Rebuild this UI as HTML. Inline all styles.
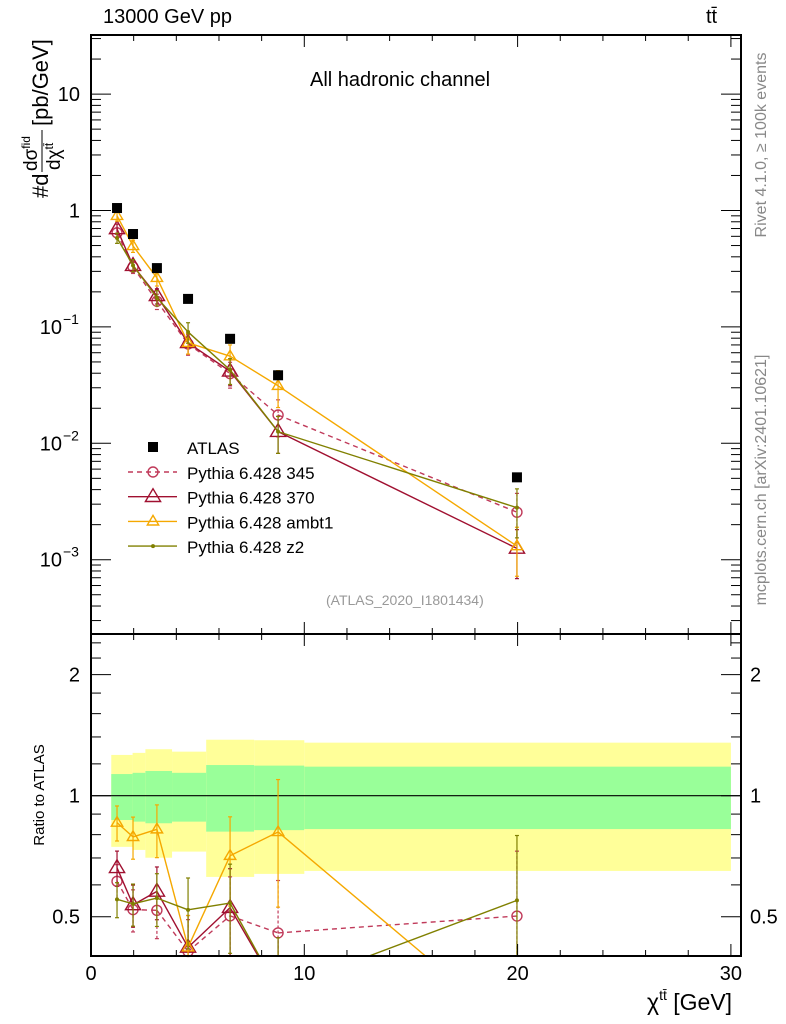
<!DOCTYPE html>
<html><head><meta charset="utf-8"><style>
html,body{margin:0;background:#fff;width:786px;height:1024px;overflow:hidden;}
svg{display:block;font-family:"Liberation Sans",sans-serif;}
</style></head><body>
<svg id="c" width="786" height="1024" viewBox="0 0 786 1024">
<text x="103" y="23" font-size="20">13000 GeV pp</text>
<text x="706" y="23" font-size="20">tt̄</text>
<text x="310" y="86" font-size="20">All hadronic channel</text>
<text x="326" y="605" font-size="14" fill="#999">(ATLAS_2020_I1801434)</text>
<text x="647" y="1010" font-size="23">χ<tspan font-size="14" dy="-10">tt̄</tspan><tspan dy="10"> [GeV]</tspan></text>
<text transform="translate(44,795) rotate(-90)" text-anchor="middle" font-size="15">Ratio to ATLAS</text>
<g transform="translate(48,198) rotate(-90)">
  <text x="0" y="0" font-size="22">#d</text>
  <text x="27" y="-11" font-size="19">dσ<tspan font-size="12" dy="-7">fid</tspan></text>
  <line x1="26" x2="68" y1="-6" y2="-6" stroke="#000" stroke-width="1"/>
  <text x="28" y="12" font-size="19">dχ<tspan font-size="12" dy="-7">tt̄</tspan></text>
  <text x="72" y="0" font-size="22">[pb/GeV]</text>
</g>
<text transform="translate(766,145) rotate(-90)" text-anchor="middle" font-size="16" fill="#888">Rivet 4.1.0, ≥ 100k events</text>
<text transform="translate(766,480) rotate(-90)" text-anchor="middle" font-size="16" fill="#888">mcplots.cern.ch [arXiv:2401.10621]</text>
</svg>
<script>
const xs=[1.22,1.97,3.09,4.55,6.52,8.77,19.97];
const atlas=[1.05,0.628,0.32,0.174,0.079,0.0384,0.0051];
const p345=[0.643,0.327,0.166,0.0713,0.0397,0.0175,0.00256];
const p370=[0.695,0.336,0.185,0.073,0.0416,0.0126,0.00125];
const pambt1=[0.90,0.496,0.264,0.073,0.056,0.0312,0.00131];
const pz2=[0.58,0.338,0.178,0.0905,0.0427,0.0126,0.0028];
const errRel=[0.1,0.12,0.15,0.2,0.25,0.35,0.45];
const binEdges=[0.95,1.95,2.55,3.8,5.4,7.65,10,30];
const yelHi=[1.263,1.278,1.305,1.287,1.378,1.374,1.355];
const yelLo=[0.746,0.733,0.701,0.726,0.628,0.639,0.65];
const grnHi=[1.132,1.14,1.152,1.14,1.192,1.188,1.181];
const grnLo=[0.87,0.862,0.854,0.862,0.814,0.821,0.826];
const xTicks=[0,10,20,30];
const yTicks=[10,1,0.1,0.01,0.001];
const yTickLabels=["10","1","10","10","10"];
const yTickExp=["","","\u22121","\u22122","\u22123"];
const rTicks=[0.5,1,2];

const NS="http://www.w3.org/2000/svg";
const svg=document.getElementById('c');
function el(t,a,p){const e=document.createElementNS(NS,t);for(const k in a)e.setAttribute(k,a[k]);(p||svg).appendChild(e);return e;}
const L=91,R=741,T=35,MB=634,RB=956;
const X=v=>91+v*21.33;
const Y=v=>210.5-116.4*Math.log10(v);
const RY=v=>795.7-402*Math.log10(v);
const cl=(v,a,b)=>Math.min(b,Math.max(a,v));

// draw polyline clipped to y-range as segments
function clippedLine(g,pts,y0,y1,attrs){
  for(let i=0;i<pts.length-1;i++){
    let [ax,ay]=pts[i],[bx,by]=pts[i+1];
    if((ay<y0&&by<y0)||(ay>y1&&by>y1))continue;
    const clipPt=(px,py,qx,qy)=>{
      if(py<y0){const t=(y0-py)/(qy-py);return [px+t*(qx-px),y0];}
      if(py>y1){const t=(y1-py)/(qy-py);return [px+t*(qx-px),y1];}
      return [px,py];
    };
    const A=clipPt(ax,ay,bx,by),B=clipPt(bx,by,ax,ay);
    const a=Object.assign({x1:A[0],y1:A[1],x2:B[0],y2:B[1]},attrs);
    el('line',a,g);
  }
}

const bands=el('g',{});


for(let i=0;i<yelHi.length;i++){
  const x0=X(binEdges[i]),x1=X(binEdges[i+1]);
  const y=el('rect',{x:x0,y:RY(yelHi[i]),width:x1-x0,height:RY(yelLo[i])-RY(yelHi[i]),fill:'#ffff99'},bands);
  
  
  const g=el('rect',{x:x0,y:RY(grnHi[i]),width:x1-x0,height:RY(grnLo[i])-RY(grnHi[i]),fill:'#99ff99'},bands);
  
  
}
el('line',{x1:L,x2:R,y1:RY(1),y2:RY(1),stroke:'#000','stroke-width':1.2});

const series=[
 {name:'Pythia 6.428 345',vals:p345,color:'#c03a5a',dash:'5,4',mk:'circle',sz:5},
 {name:'Pythia 6.428 370',vals:p370,color:'#a01030',dash:'',mk:'tri',sz:8},
 {name:'Pythia 6.428 ambt1',vals:pambt1,color:'#f5a800',dash:'',mk:'tri',sz:6},
 {name:'Pythia 6.428 z2',vals:pz2,color:'#808000',dash:'',mk:'dot',sz:2}
];
function marker(g,mk,x,y,sz,col){
  if(mk==='circle')return el('circle',{cx:x,cy:y,r:sz,fill:'none',stroke:col,'stroke-width':1.4},g);
  if(mk==='tri')return el('polygon',{points:`${x},${y-sz} ${x-sz*0.95},${y+sz*0.6} ${x+sz*0.95},${y+sz*0.6}`,fill:'none',stroke:col,'stroke-width':1.4},g);
  return el('circle',{cx:x,cy:y,r:sz,fill:col},g);
}
series.forEach((s,si)=>{
  const gm=el('g',{});
  
  
  const gr=el('g',{});
  
  
  const la={stroke:s.color,'stroke-width':1.4,'stroke-dasharray':s.dash};
  clippedLine(gm,xs.map((x,i)=>[X(x),Y(s.vals[i])]),T,MB,la);
  clippedLine(gr,xs.map((x,i)=>[X(x),RY(s.vals[i]/atlas[i])]),MB,RB,la);
  xs.forEach((x,i)=>{
    const v=s.vals[i],e=errRel[i],r=v/atlas[i];
    [[gm,Y(v*(1+e)),Y(v*(1-e)),Y(v),T,MB],[gr,RY(r*(1+e)),RY(r*(1-e)),RY(r),MB,RB]].forEach(([g,a,b,c,lo,hi])=>{
      if((a<lo&&b<lo)||(a>hi&&b>hi))return;
      const a2=cl(a,lo,hi),b2=cl(b,lo,hi);
      el('line',{x1:X(x),x2:X(x),y1:a2,y2:b2,stroke:s.color,'stroke-width':1.2,'stroke-dasharray':s.dash?'3,2':''},g);
      if(a>=lo)el('line',{x1:X(x)-2,x2:X(x)+2,y1:a,y2:a,stroke:s.color,'stroke-width':1.2},g);
      if(b<=hi)el('line',{x1:X(x)-2,x2:X(x)+2,y1:b,y2:b,stroke:s.color,'stroke-width':1.2},g);
      if(c<lo||c>hi-4)return;
      const m=marker(g,s.mk,X(x),c,s.sz,s.color);
      
      
    });
  });
});
const ga=el('g',{});


xs.forEach((x,i)=>{
  const r=el('rect',{x:X(x)-5,y:Y(atlas[i])-5,width:10,height:10,fill:'#000'},ga);
  
  
});

el('rect',{x:L,y:T,width:R-L,height:MB-T,fill:'none',stroke:'#000','stroke-width':2});
el('rect',{x:L,y:MB,width:R-L,height:RB-MB,fill:'none',stroke:'#000','stroke-width':2});
for(let v=0;v<=30;v+=2){
  const len=(v%10===0)?12:6;
  [[T,1],[MB,1],[MB,-1],[RB,-1]].forEach(([y,d])=>el('line',{x1:X(v),x2:X(v),y1:y,y2:y+d*len,stroke:'#000','stroke-width':1}));
}
xTicks.forEach(v=>{const t=el('text',{x:X(v),y:980,'font-size':20,'text-anchor':'middle'});t.textContent=v;
 });
for(let d=-4;d<=1;d++)for(let m=1;m<10;m++){
  const v=m*Math.pow(10,d),y=Y(v);if(y<T||y>MB)continue;
  const len=m===1?20:10;
  el('line',{x1:L,x2:L+len,y1:y,y2:y,stroke:'#000'});el('line',{x1:R,x2:R-len,y1:y,y2:y,stroke:'#000'});
}
yTicks.forEach((v,i)=>{
  const t=el('text',{x:yTickExp[i]?62:80,y:Y(v)+7,'font-size':20,'text-anchor':'end'});t.textContent=yTickLabels[i];
  
  if(yTickExp[i]){const e=el('text',{x:63,y:Y(v)-3,'font-size':14});e.textContent=yTickExp[i];}
});
[0.4,0.5,0.6,0.7,0.8,0.9,1,1.2,1.4,1.6,1.8,2,2.2,2.4].forEach(v=>{
  const y=RY(v);if(y<MB||y>RB)return;const len=rTicks.includes(v)?20:10;
  el('line',{x1:L,x2:L+len,y1:y,y2:y,stroke:'#000'});el('line',{x1:R,x2:R-len,y1:y,y2:y,stroke:'#000'});
});
rTicks.forEach(v=>{
  const a=el('text',{x:80,y:RY(v)+7,'font-size':20,'text-anchor':'end'});a.textContent=v;
  
  const b=el('text',{x:750,y:RY(v)+7,'font-size':20});b.textContent=v;
  
});
const lg=el('g',{});


el('rect',{x:148,y:442,width:10,height:10,fill:'#000'},lg);
let t=el('text',{x:187,y:454,'font-size':17},lg);t.textContent='ATLAS';
series.forEach((s,i)=>{
  const y=472+i*24.7;
  const e=el('g',{},lg);
  
  
  el('line',{x1:128,x2:177,y1:y,y2:y,stroke:s.color,'stroke-width':1.4,'stroke-dasharray':s.dash},e);
  marker(e,s.mk,153,y,s.sz,s.color);
  const tx=el('text',{x:187,y:y+7,'font-size':17},e);tx.textContent=s.name;
});
</script>
</body></html>
